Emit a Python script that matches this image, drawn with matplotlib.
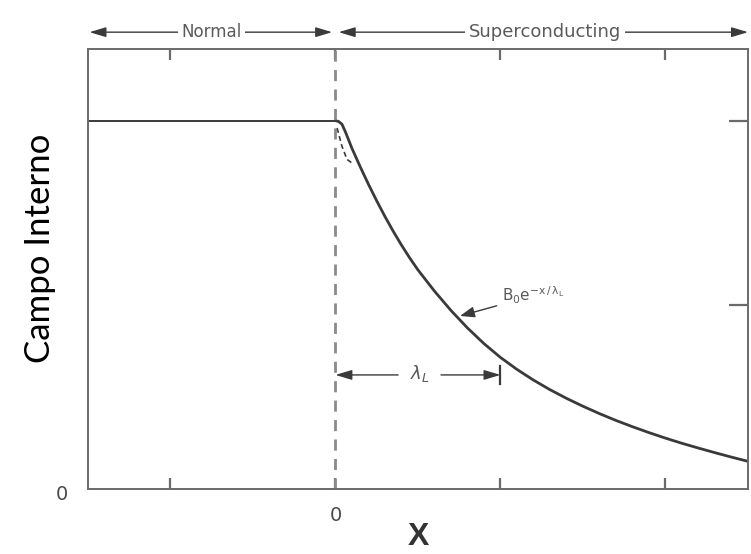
import matplotlib.pyplot as plt

# Field inside the sample, read along the x axis
x_normal = [-1.5, 0.0]
b_normal = [2.0, 2.0]

x_super = [0.0, 0.02, 0.04, 0.06, 0.1, 0.15, 0.2, 0.25, 0.3, 0.35, 0.4, 0.45, 0.5,
           0.6, 0.7, 0.8, 0.9, 1.0, 1.1, 1.2, 1.3, 1.4, 1.5, 1.6, 1.7, 1.8,
           1.9, 2.0, 2.1, 2.2, 2.3, 2.4, 2.5]
b_super = [2.0, 1.995, 1.98, 1.94, 1.85, 1.75, 1.655, 1.565, 1.48, 1.40, 1.325, 1.255,
           1.19, 1.075, 0.97, 0.875, 0.79, 0.715, 0.65, 0.592, 0.54, 0.493, 0.45, 0.41,
           0.373, 0.339, 0.307, 0.277, 0.249, 0.223, 0.198, 0.174, 0.151]

x_ticks = [-1, 0, 1, 2]
y_ticks = [1, 2]

ink = "#3a3a3a"
soft = "#5a5a5a"

fig = plt.figure(figsize=(7.51, 5.54), dpi=100)
ax = fig.add_axes([0.117, 0.117, 0.879, 0.795])

ax.plot(x_normal, b_normal, color=ink, lw=1.4, solid_capstyle="butt")
ax.plot(x_super, b_super, color=ink, lw=2.0)
# short dashed trace just inside the boundary
ax.plot([0.01, 0.04, 0.07, 0.1], [1.96, 1.86, 1.79, 1.77], color=ink, lw=1.2,
        ls=(0, (3, 2)))

# boundary between the normal and superconducting regions
ax.axvline(0, ymin=0, ymax=1, color="#8a8a8a", lw=2.0, ls=(0, (4, 3)))

ax.set_xlim(-1.5, 2.5)
ax.set_ylim(0, 2.39)

for side in ["left", "right", "top", "bottom"]:
    ax.spines[side].set_color("#6a6a6a")
    ax.spines[side].set_linewidth(1.4)

ax.set_xticks(x_ticks)
ax.set_xticklabels([])
ax.set_yticks(y_ticks)
ax.set_yticklabels([])
ax.tick_params(axis="x", direction="in", length=8, width=1.6, color="#6a6a6a",
               top=True, bottom=True)
ax.tick_params(axis="y", direction="in", length=14, width=1.6, color="#6a6a6a",
               left=False, right=True)

zero_font = dict(family="Liberation Sans Narrow", fontsize=14, color="#4a4a4a")
ax.text(0, -0.09, "0", ha="center", va="top", **zero_font)
ax.text(-1.66, -0.03, "0", ha="center", va="center", **zero_font)

ax.set_xlabel("X", fontsize=23, fontweight="bold", family="Liberation Sans",
              color="#333333", labelpad=20)
ax.set_ylabel("Campo Interno", fontsize=25, family="Lato", color="black")
ax.yaxis.set_label_coords(-0.048, 0.548)

# region arrows above the frame
arrow_top = 2.48
head = dict(arrowstyle="<|-|>,head_length=1.0,head_width=0.3", color=ink, lw=1.0,
            shrinkA=0, shrinkB=0)
ax.annotate("", xy=(-1.49, arrow_top), xytext=(-0.02, arrow_top),
            arrowprops=head, annotation_clip=False)
ax.annotate("", xy=(0.02, arrow_top), xytext=(2.5, arrow_top),
            arrowprops=head, annotation_clip=False)
box = dict(boxstyle="square,pad=0.2", fc="white", ec="none")
ax.text(-0.75, arrow_top, "Normal", ha="center", va="center", fontsize=12,
        color=soft, bbox=box, clip_on=False)
ax.text(1.27, arrow_top, "Superconducting", ha="center", va="center", fontsize=13,
        color=soft, bbox=box, clip_on=False)

# penetration depth marker
lam_y = 0.62
lam_head = dict(arrowstyle="-|>,head_length=1.0,head_width=0.3", color=ink, lw=1.0,
                shrinkA=0, shrinkB=0)
ax.annotate("", xy=(0.0, lam_y), xytext=(0.38, lam_y), arrowprops=lam_head)
ax.annotate("", xy=(1.0, lam_y), xytext=(0.64, lam_y), arrowprops=lam_head)
ax.plot([1.0, 1.0], [lam_y - 0.05, lam_y + 0.05], color=ink, lw=1.6)
ax.text(0.51, lam_y + 0.01, r"$\lambda_L$", ha="center", va="center", fontsize=13,
        color=soft)

# exponential law label pointing at the curve
ax.annotate(r"$\mathrm{B_0e^{-x\,/\,\lambda_L}}$", xy=(0.755, 0.94),
            xytext=(1.01, 1.05), fontsize=11, color=soft, va="center",
            arrowprops=dict(arrowstyle="-|>,head_length=0.8,head_width=0.3",
                            color=ink, lw=1.0, shrinkA=2, shrinkB=0))

fig.savefig("out.png", dpi=100, facecolor="white")
